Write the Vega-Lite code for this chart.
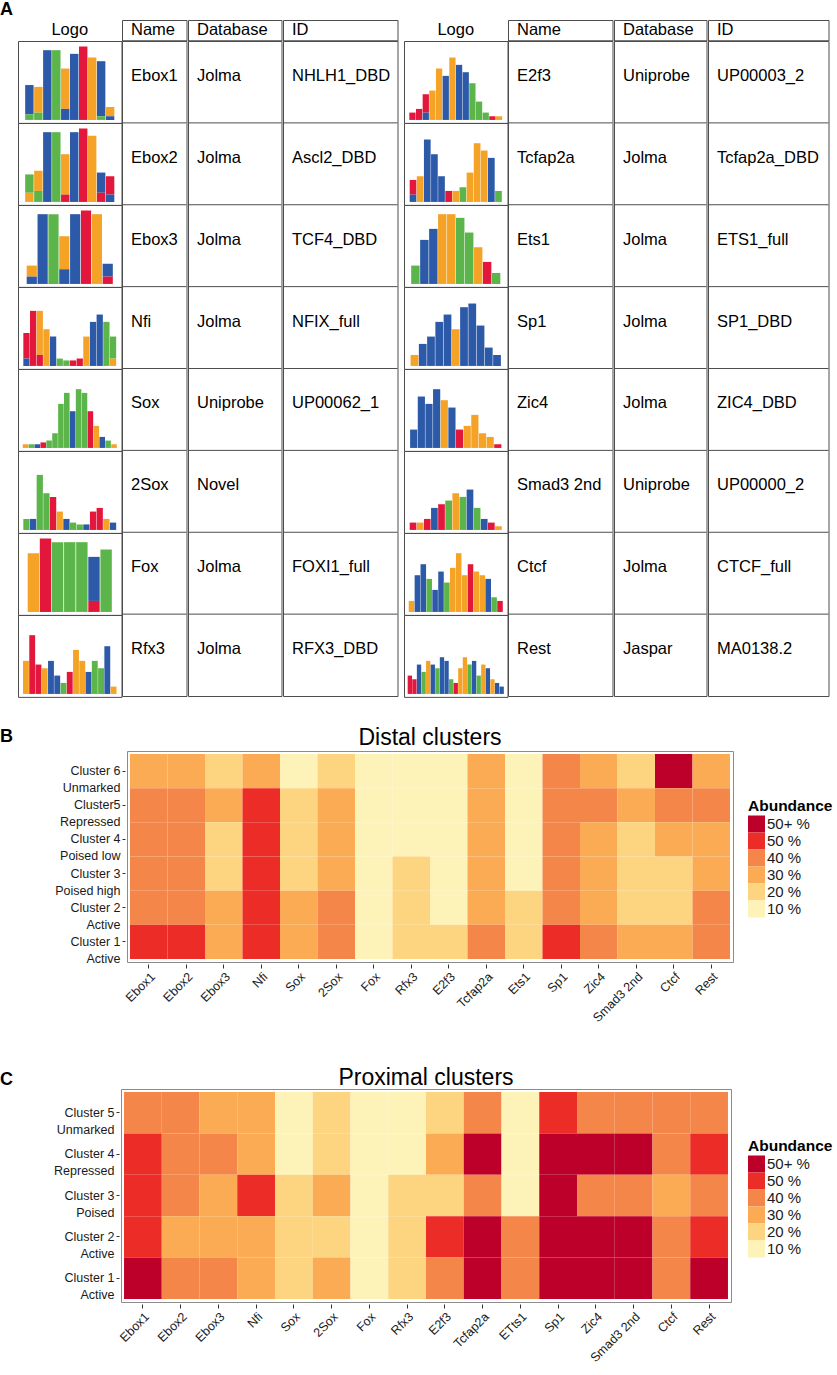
{
"$schema": "https://vega.github.io/schema/vega-lite/v6.json",
"background": "white",
"padding": 0,
"config": {"view": {"stroke": "#4d4d4d", "strokeWidth": 1}, "font": "Liberation Sans", "text": {"font": "Liberation Sans", "fontSize": 16.5, "color": "black"}},
"datasets": {
"motifs": [
{"side":"L","row":1,"name":"Ebox1","db":"Jolma","id":"NHLH1_DBD"},
{"side":"L","row":2,"name":"Ebox2","db":"Jolma","id":"Ascl2_DBD"},
{"side":"L","row":3,"name":"Ebox3","db":"Jolma","id":"TCF4_DBD"},
{"side":"L","row":4,"name":"Nfi","db":"Jolma","id":"NFIX_full"},
{"side":"L","row":5,"name":"Sox","db":"Uniprobe","id":"UP00062_1"},
{"side":"L","row":6,"name":"2Sox","db":"Novel","id":""},
{"side":"L","row":7,"name":"Fox","db":"Jolma","id":"FOXI1_full"},
{"side":"L","row":8,"name":"Rfx3","db":"Jolma","id":"RFX3_DBD"},
{"side":"R","row":1,"name":"E2f3","db":"Uniprobe","id":"UP00003_2"},
{"side":"R","row":2,"name":"Tcfap2a","db":"Jolma","id":"Tcfap2a_DBD"},
{"side":"R","row":3,"name":"Ets1","db":"Jolma","id":"ETS1_full"},
{"side":"R","row":4,"name":"Sp1","db":"Jolma","id":"SP1_DBD"},
{"side":"R","row":5,"name":"Zic4","db":"Jolma","id":"ZIC4_DBD"},
{"side":"R","row":6,"name":"Smad3 2nd","db":"Uniprobe","id":"UP00000_2"},
{"side":"R","row":7,"name":"Ctcf","db":"Jolma","id":"CTCF_full"},
{"side":"R","row":8,"name":"Rest","db":"Jaspar","id":"MA0138.2"}
],
"letters": [{"panel":"B"},{"panel":"C"}],
"logos": [
{"m":"Ebox1","p":1,"b":"C","h":0.8},{"m":"Ebox1","p":1,"b":"A","h":0.15},{"m":"Ebox1","p":2,"b":"G","h":0.7},{"m":"Ebox1","p":2,"b":"A","h":0.2},{"m":"Ebox1","p":3,"b":"C","h":1.9},{"m":"Ebox1","p":4,"b":"A","h":1.9},{"m":"Ebox1","p":5,"b":"G","h":1.1},{"m":"Ebox1","p":5,"b":"C","h":0.3},{"m":"Ebox1","p":6,"b":"C","h":1.8},{"m":"Ebox1","p":7,"b":"T","h":2.0},{"m":"Ebox1","p":8,"b":"G","h":1.7},{"m":"Ebox1","p":9,"b":"C","h":1.5},{"m":"Ebox1","p":9,"b":"A","h":0.1},{"m":"Ebox1","p":10,"b":"G","h":0.25},{"m":"Ebox1","p":10,"b":"C","h":0.1},
{"m":"Ebox2","p":1,"b":"A","h":0.5},{"m":"Ebox2","p":1,"b":"G","h":0.25},{"m":"Ebox2","p":2,"b":"G","h":0.55},{"m":"Ebox2","p":2,"b":"A","h":0.3},{"m":"Ebox2","p":3,"b":"C","h":1.9},{"m":"Ebox2","p":4,"b":"A","h":1.9},{"m":"Ebox2","p":5,"b":"G","h":1.1},{"m":"Ebox2","p":5,"b":"T","h":0.2},{"m":"Ebox2","p":6,"b":"C","h":1.9},{"m":"Ebox2","p":7,"b":"T","h":2.0},{"m":"Ebox2","p":8,"b":"G","h":1.8},{"m":"Ebox2","p":9,"b":"C","h":0.55},{"m":"Ebox2","p":9,"b":"T","h":0.25},{"m":"Ebox2","p":10,"b":"T","h":0.5},{"m":"Ebox2","p":10,"b":"C","h":0.2},
{"m":"Ebox3","p":1,"b":"G","h":0.3},{"m":"Ebox3","p":1,"b":"C","h":0.2},{"m":"Ebox3","p":2,"b":"C","h":1.9},{"m":"Ebox3","p":3,"b":"A","h":1.9},{"m":"Ebox3","p":4,"b":"G","h":0.9},{"m":"Ebox3","p":4,"b":"C","h":0.4},{"m":"Ebox3","p":5,"b":"C","h":1.9},{"m":"Ebox3","p":6,"b":"T","h":2.0},{"m":"Ebox3","p":7,"b":"G","h":1.9},{"m":"Ebox3","p":8,"b":"C","h":0.35},{"m":"Ebox3","p":8,"b":"T","h":0.2},
{"m":"Nfi","p":1,"b":"T","h":0.7},{"m":"Nfi","p":1,"b":"C","h":0.2},{"m":"Nfi","p":2,"b":"T","h":1.5},{"m":"Nfi","p":3,"b":"G","h":1.2},{"m":"Nfi","p":3,"b":"T","h":0.3},{"m":"Nfi","p":4,"b":"G","h":1.0},{"m":"Nfi","p":5,"b":"C","h":0.8},{"m":"Nfi","p":6,"b":"A","h":0.2},{"m":"Nfi","p":7,"b":"A","h":0.15},{"m":"Nfi","p":8,"b":"T","h":0.15},{"m":"Nfi","p":9,"b":"T","h":0.2},{"m":"Nfi","p":10,"b":"G","h":0.8},{"m":"Nfi","p":11,"b":"C","h":1.2},{"m":"Nfi","p":12,"b":"C","h":1.4},{"m":"Nfi","p":13,"b":"A","h":1.2},{"m":"Nfi","p":14,"b":"A","h":0.6},{"m":"Nfi","p":14,"b":"G","h":0.2},
{"m":"Sox","p":1,"b":"G","h":0.1},{"m":"Sox","p":2,"b":"A","h":0.1},{"m":"Sox","p":3,"b":"C","h":0.1},{"m":"Sox","p":4,"b":"T","h":0.15},{"m":"Sox","p":5,"b":"A","h":0.2},{"m":"Sox","p":6,"b":"A","h":0.4},{"m":"Sox","p":7,"b":"A","h":1.2},{"m":"Sox","p":8,"b":"A","h":1.5},{"m":"Sox","p":9,"b":"C","h":1.0},{"m":"Sox","p":10,"b":"A","h":1.6},{"m":"Sox","p":11,"b":"A","h":1.5},{"m":"Sox","p":12,"b":"T","h":1.0},{"m":"Sox","p":13,"b":"G","h":0.6},{"m":"Sox","p":14,"b":"C","h":0.3},{"m":"Sox","p":15,"b":"A","h":0.2},{"m":"Sox","p":16,"b":"G","h":0.1},
{"m":"2Sox","p":1,"b":"A","h":0.3},{"m":"2Sox","p":2,"b":"C","h":0.3},{"m":"2Sox","p":3,"b":"A","h":1.5},{"m":"2Sox","p":4,"b":"A","h":1.0},{"m":"2Sox","p":5,"b":"T","h":0.9},{"m":"2Sox","p":6,"b":"G","h":0.5},{"m":"2Sox","p":7,"b":"C","h":0.3},{"m":"2Sox","p":8,"b":"A","h":0.2},{"m":"2Sox","p":9,"b":"A","h":0.15},{"m":"2Sox","p":10,"b":"C","h":0.15},{"m":"2Sox","p":11,"b":"T","h":0.5},{"m":"2Sox","p":12,"b":"T","h":0.6},{"m":"2Sox","p":13,"b":"G","h":0.3},{"m":"2Sox","p":14,"b":"C","h":0.2},
{"m":"Fox","p":1,"b":"G","h":1.6},{"m":"Fox","p":2,"b":"T","h":2.0},{"m":"Fox","p":3,"b":"A","h":1.9},{"m":"Fox","p":4,"b":"A","h":1.9},{"m":"Fox","p":5,"b":"A","h":1.9},{"m":"Fox","p":6,"b":"C","h":1.2},{"m":"Fox","p":6,"b":"T","h":0.3},{"m":"Fox","p":7,"b":"A","h":1.7},
{"m":"Rfx3","p":1,"b":"G","h":0.9},{"m":"Rfx3","p":2,"b":"T","h":1.6},{"m":"Rfx3","p":3,"b":"T","h":0.8},{"m":"Rfx3","p":4,"b":"G","h":0.7},{"m":"Rfx3","p":5,"b":"C","h":0.9},{"m":"Rfx3","p":6,"b":"C","h":0.5},{"m":"Rfx3","p":7,"b":"A","h":0.3},{"m":"Rfx3","p":8,"b":"T","h":0.6},{"m":"Rfx3","p":9,"b":"G","h":1.2},{"m":"Rfx3","p":10,"b":"G","h":0.9},{"m":"Rfx3","p":11,"b":"C","h":0.6},{"m":"Rfx3","p":12,"b":"A","h":0.9},{"m":"Rfx3","p":13,"b":"A","h":0.7},{"m":"Rfx3","p":14,"b":"C","h":1.3},{"m":"Rfx3","p":15,"b":"G","h":0.2},
{"m":"E2f3","p":1,"b":"T","h":0.2},{"m":"E2f3","p":2,"b":"T","h":0.3},{"m":"E2f3","p":3,"b":"T","h":0.5},{"m":"E2f3","p":3,"b":"C","h":0.2},{"m":"E2f3","p":4,"b":"G","h":0.8},{"m":"E2f3","p":5,"b":"G","h":1.4},{"m":"E2f3","p":6,"b":"C","h":1.2},{"m":"E2f3","p":7,"b":"G","h":1.7},{"m":"E2f3","p":8,"b":"C","h":1.5},{"m":"E2f3","p":9,"b":"C","h":1.3},{"m":"E2f3","p":10,"b":"A","h":1.0},{"m":"E2f3","p":11,"b":"A","h":0.5},{"m":"E2f3","p":12,"b":"A","h":0.2},{"m":"E2f3","p":13,"b":"T","h":0.1},{"m":"E2f3","p":14,"b":"G","h":0.1},
{"m":"Tcfap2a","p":1,"b":"T","h":0.4},{"m":"Tcfap2a","p":1,"b":"C","h":0.2},{"m":"Tcfap2a","p":2,"b":"G","h":0.7},{"m":"Tcfap2a","p":3,"b":"C","h":1.7},{"m":"Tcfap2a","p":4,"b":"C","h":1.3},{"m":"Tcfap2a","p":5,"b":"C","h":0.7},{"m":"Tcfap2a","p":6,"b":"T","h":0.3},{"m":"Tcfap2a","p":7,"b":"G","h":0.3},{"m":"Tcfap2a","p":8,"b":"A","h":0.4},{"m":"Tcfap2a","p":9,"b":"G","h":0.8},{"m":"Tcfap2a","p":10,"b":"G","h":1.6},{"m":"Tcfap2a","p":11,"b":"G","h":1.4},{"m":"Tcfap2a","p":12,"b":"C","h":1.2},{"m":"Tcfap2a","p":13,"b":"A","h":0.3},
{"m":"Ets1","p":1,"b":"A","h":0.5},{"m":"Ets1","p":2,"b":"C","h":1.2},{"m":"Ets1","p":3,"b":"C","h":1.5},{"m":"Ets1","p":4,"b":"G","h":1.9},{"m":"Ets1","p":5,"b":"G","h":1.9},{"m":"Ets1","p":6,"b":"A","h":1.8},{"m":"Ets1","p":7,"b":"A","h":1.4},{"m":"Ets1","p":8,"b":"G","h":1.0},{"m":"Ets1","p":9,"b":"T","h":0.6},{"m":"Ets1","p":10,"b":"A","h":0.3},
{"m":"Sp1","p":1,"b":"G","h":0.3},{"m":"Sp1","p":2,"b":"C","h":0.6},{"m":"Sp1","p":3,"b":"C","h":0.8},{"m":"Sp1","p":4,"b":"C","h":1.2},{"m":"Sp1","p":5,"b":"C","h":1.4},{"m":"Sp1","p":6,"b":"G","h":1.0},{"m":"Sp1","p":7,"b":"C","h":1.6},{"m":"Sp1","p":8,"b":"C","h":1.7},{"m":"Sp1","p":9,"b":"C","h":1.1},{"m":"Sp1","p":10,"b":"C","h":0.5},{"m":"Sp1","p":11,"b":"C","h":0.3},
{"m":"Zic4","p":1,"b":"C","h":0.5},{"m":"Zic4","p":2,"b":"C","h":1.4},{"m":"Zic4","p":3,"b":"C","h":1.2},{"m":"Zic4","p":4,"b":"C","h":1.6},{"m":"Zic4","p":5,"b":"G","h":1.3},{"m":"Zic4","p":6,"b":"C","h":1.1},{"m":"Zic4","p":7,"b":"T","h":0.5},{"m":"Zic4","p":8,"b":"G","h":0.6},{"m":"Zic4","p":9,"b":"G","h":0.9},{"m":"Zic4","p":10,"b":"G","h":0.4},{"m":"Zic4","p":11,"b":"G","h":0.3},{"m":"Zic4","p":12,"b":"T","h":0.1},
{"m":"Smad3 2nd","p":1,"b":"T","h":0.2},{"m":"Smad3 2nd","p":2,"b":"G","h":0.2},{"m":"Smad3 2nd","p":3,"b":"T","h":0.3},{"m":"Smad3 2nd","p":4,"b":"C","h":0.6},{"m":"Smad3 2nd","p":5,"b":"T","h":0.7},{"m":"Smad3 2nd","p":6,"b":"A","h":0.8},{"m":"Smad3 2nd","p":7,"b":"G","h":1.0},{"m":"Smad3 2nd","p":8,"b":"A","h":0.9},{"m":"Smad3 2nd","p":9,"b":"C","h":1.1},{"m":"Smad3 2nd","p":10,"b":"A","h":0.6},{"m":"Smad3 2nd","p":11,"b":"C","h":0.3},{"m":"Smad3 2nd","p":12,"b":"T","h":0.2},{"m":"Smad3 2nd","p":13,"b":"G","h":0.1},
{"m":"Ctcf","p":1,"b":"G","h":0.3},{"m":"Ctcf","p":2,"b":"C","h":1.0},{"m":"Ctcf","p":3,"b":"C","h":1.3},{"m":"Ctcf","p":4,"b":"A","h":0.9},{"m":"Ctcf","p":5,"b":"C","h":0.6},{"m":"Ctcf","p":6,"b":"C","h":1.1},{"m":"Ctcf","p":7,"b":"A","h":0.8},{"m":"Ctcf","p":8,"b":"G","h":1.2},{"m":"Ctcf","p":9,"b":"G","h":1.6},{"m":"Ctcf","p":10,"b":"G","h":1.0},{"m":"Ctcf","p":11,"b":"T","h":1.3},{"m":"Ctcf","p":12,"b":"G","h":1.1},{"m":"Ctcf","p":13,"b":"G","h":1.0},{"m":"Ctcf","p":14,"b":"C","h":0.9},{"m":"Ctcf","p":15,"b":"A","h":0.4},{"m":"Ctcf","p":16,"b":"T","h":0.3},
{"m":"Rest","p":1,"b":"T","h":0.5},{"m":"Rest","p":2,"b":"T","h":0.4},{"m":"Rest","p":3,"b":"C","h":0.8},{"m":"Rest","p":4,"b":"A","h":0.6},{"m":"Rest","p":5,"b":"G","h":0.9},{"m":"Rest","p":6,"b":"C","h":0.8},{"m":"Rest","p":7,"b":"A","h":0.7},{"m":"Rest","p":8,"b":"C","h":1.0},{"m":"Rest","p":9,"b":"C","h":0.9},{"m":"Rest","p":10,"b":"A","h":0.4},{"m":"Rest","p":11,"b":"T","h":0.3},{"m":"Rest","p":12,"b":"G","h":0.7},{"m":"Rest","p":13,"b":"G","h":1.0},{"m":"Rest","p":14,"b":"A","h":0.8},{"m":"Rest","p":15,"b":"C","h":0.9},{"m":"Rest","p":16,"b":"A","h":0.5},{"m":"Rest","p":17,"b":"G","h":0.8},{"m":"Rest","p":18,"b":"C","h":0.7},{"m":"Rest","p":19,"b":"G","h":0.4},{"m":"Rest","p":20,"b":"C","h":0.3},{"m":"Rest","p":21,"b":"C","h":0.2}
],
"distal": [
{"motif":"Ebox1","cluster":"Cluster 6|Unmarked","level":"30 %"},{"motif":"Ebox2","cluster":"Cluster 6|Unmarked","level":"30 %"},{"motif":"Ebox3","cluster":"Cluster 6|Unmarked","level":"20 %"},{"motif":"Nfi","cluster":"Cluster 6|Unmarked","level":"30 %"},{"motif":"Sox","cluster":"Cluster 6|Unmarked","level":"10 %"},{"motif":"2Sox","cluster":"Cluster 6|Unmarked","level":"20 %"},{"motif":"Fox","cluster":"Cluster 6|Unmarked","level":"10 %"},{"motif":"Rfx3","cluster":"Cluster 6|Unmarked","level":"10 %"},{"motif":"E2f3","cluster":"Cluster 6|Unmarked","level":"10 %"},{"motif":"Tcfap2a","cluster":"Cluster 6|Unmarked","level":"30 %"},{"motif":"Ets1","cluster":"Cluster 6|Unmarked","level":"10 %"},{"motif":"Sp1","cluster":"Cluster 6|Unmarked","level":"40 %"},{"motif":"Zic4","cluster":"Cluster 6|Unmarked","level":"30 %"},{"motif":"Smad3 2nd","cluster":"Cluster 6|Unmarked","level":"20 %"},{"motif":"Ctcf","cluster":"Cluster 6|Unmarked","level":"50+ %"},{"motif":"Rest","cluster":"Cluster 6|Unmarked","level":"30 %"},
{"motif":"Ebox1","cluster":"Cluster5|Repressed","level":"40 %"},{"motif":"Ebox2","cluster":"Cluster5|Repressed","level":"40 %"},{"motif":"Ebox3","cluster":"Cluster5|Repressed","level":"30 %"},{"motif":"Nfi","cluster":"Cluster5|Repressed","level":"50 %"},{"motif":"Sox","cluster":"Cluster5|Repressed","level":"20 %"},{"motif":"2Sox","cluster":"Cluster5|Repressed","level":"30 %"},{"motif":"Fox","cluster":"Cluster5|Repressed","level":"10 %"},{"motif":"Rfx3","cluster":"Cluster5|Repressed","level":"10 %"},{"motif":"E2f3","cluster":"Cluster5|Repressed","level":"10 %"},{"motif":"Tcfap2a","cluster":"Cluster5|Repressed","level":"30 %"},{"motif":"Ets1","cluster":"Cluster5|Repressed","level":"10 %"},{"motif":"Sp1","cluster":"Cluster5|Repressed","level":"40 %"},{"motif":"Zic4","cluster":"Cluster5|Repressed","level":"40 %"},{"motif":"Smad3 2nd","cluster":"Cluster5|Repressed","level":"30 %"},{"motif":"Ctcf","cluster":"Cluster5|Repressed","level":"40 %"},{"motif":"Rest","cluster":"Cluster5|Repressed","level":"40 %"},
{"motif":"Ebox1","cluster":"Cluster 4|Poised low","level":"40 %"},{"motif":"Ebox2","cluster":"Cluster 4|Poised low","level":"40 %"},{"motif":"Ebox3","cluster":"Cluster 4|Poised low","level":"20 %"},{"motif":"Nfi","cluster":"Cluster 4|Poised low","level":"50 %"},{"motif":"Sox","cluster":"Cluster 4|Poised low","level":"20 %"},{"motif":"2Sox","cluster":"Cluster 4|Poised low","level":"30 %"},{"motif":"Fox","cluster":"Cluster 4|Poised low","level":"10 %"},{"motif":"Rfx3","cluster":"Cluster 4|Poised low","level":"10 %"},{"motif":"E2f3","cluster":"Cluster 4|Poised low","level":"10 %"},{"motif":"Tcfap2a","cluster":"Cluster 4|Poised low","level":"30 %"},{"motif":"Ets1","cluster":"Cluster 4|Poised low","level":"10 %"},{"motif":"Sp1","cluster":"Cluster 4|Poised low","level":"40 %"},{"motif":"Zic4","cluster":"Cluster 4|Poised low","level":"30 %"},{"motif":"Smad3 2nd","cluster":"Cluster 4|Poised low","level":"20 %"},{"motif":"Ctcf","cluster":"Cluster 4|Poised low","level":"30 %"},{"motif":"Rest","cluster":"Cluster 4|Poised low","level":"30 %"},
{"motif":"Ebox1","cluster":"Cluster 3|Poised high","level":"40 %"},{"motif":"Ebox2","cluster":"Cluster 3|Poised high","level":"40 %"},{"motif":"Ebox3","cluster":"Cluster 3|Poised high","level":"20 %"},{"motif":"Nfi","cluster":"Cluster 3|Poised high","level":"50 %"},{"motif":"Sox","cluster":"Cluster 3|Poised high","level":"20 %"},{"motif":"2Sox","cluster":"Cluster 3|Poised high","level":"30 %"},{"motif":"Fox","cluster":"Cluster 3|Poised high","level":"10 %"},{"motif":"Rfx3","cluster":"Cluster 3|Poised high","level":"20 %"},{"motif":"E2f3","cluster":"Cluster 3|Poised high","level":"10 %"},{"motif":"Tcfap2a","cluster":"Cluster 3|Poised high","level":"30 %"},{"motif":"Ets1","cluster":"Cluster 3|Poised high","level":"10 %"},{"motif":"Sp1","cluster":"Cluster 3|Poised high","level":"40 %"},{"motif":"Zic4","cluster":"Cluster 3|Poised high","level":"30 %"},{"motif":"Smad3 2nd","cluster":"Cluster 3|Poised high","level":"20 %"},{"motif":"Ctcf","cluster":"Cluster 3|Poised high","level":"20 %"},{"motif":"Rest","cluster":"Cluster 3|Poised high","level":"30 %"},
{"motif":"Ebox1","cluster":"Cluster 2|Active","level":"40 %"},{"motif":"Ebox2","cluster":"Cluster 2|Active","level":"40 %"},{"motif":"Ebox3","cluster":"Cluster 2|Active","level":"30 %"},{"motif":"Nfi","cluster":"Cluster 2|Active","level":"50 %"},{"motif":"Sox","cluster":"Cluster 2|Active","level":"30 %"},{"motif":"2Sox","cluster":"Cluster 2|Active","level":"40 %"},{"motif":"Fox","cluster":"Cluster 2|Active","level":"10 %"},{"motif":"Rfx3","cluster":"Cluster 2|Active","level":"20 %"},{"motif":"E2f3","cluster":"Cluster 2|Active","level":"10 %"},{"motif":"Tcfap2a","cluster":"Cluster 2|Active","level":"30 %"},{"motif":"Ets1","cluster":"Cluster 2|Active","level":"20 %"},{"motif":"Sp1","cluster":"Cluster 2|Active","level":"40 %"},{"motif":"Zic4","cluster":"Cluster 2|Active","level":"30 %"},{"motif":"Smad3 2nd","cluster":"Cluster 2|Active","level":"20 %"},{"motif":"Ctcf","cluster":"Cluster 2|Active","level":"20 %"},{"motif":"Rest","cluster":"Cluster 2|Active","level":"40 %"},
{"motif":"Ebox1","cluster":"Cluster 1|Active","level":"50 %"},{"motif":"Ebox2","cluster":"Cluster 1|Active","level":"50 %"},{"motif":"Ebox3","cluster":"Cluster 1|Active","level":"30 %"},{"motif":"Nfi","cluster":"Cluster 1|Active","level":"50 %"},{"motif":"Sox","cluster":"Cluster 1|Active","level":"30 %"},{"motif":"2Sox","cluster":"Cluster 1|Active","level":"40 %"},{"motif":"Fox","cluster":"Cluster 1|Active","level":"10 %"},{"motif":"Rfx3","cluster":"Cluster 1|Active","level":"20 %"},{"motif":"E2f3","cluster":"Cluster 1|Active","level":"20 %"},{"motif":"Tcfap2a","cluster":"Cluster 1|Active","level":"40 %"},{"motif":"Ets1","cluster":"Cluster 1|Active","level":"20 %"},{"motif":"Sp1","cluster":"Cluster 1|Active","level":"50 %"},{"motif":"Zic4","cluster":"Cluster 1|Active","level":"40 %"},{"motif":"Smad3 2nd","cluster":"Cluster 1|Active","level":"30 %"},{"motif":"Ctcf","cluster":"Cluster 1|Active","level":"30 %"},{"motif":"Rest","cluster":"Cluster 1|Active","level":"40 %"}
],
"proximal": [
{"motif":"Ebox1","cluster":"Cluster 5|Unmarked","level":"40 %"},{"motif":"Ebox2","cluster":"Cluster 5|Unmarked","level":"40 %"},{"motif":"Ebox3","cluster":"Cluster 5|Unmarked","level":"30 %"},{"motif":"Nfi","cluster":"Cluster 5|Unmarked","level":"30 %"},{"motif":"Sox","cluster":"Cluster 5|Unmarked","level":"10 %"},{"motif":"2Sox","cluster":"Cluster 5|Unmarked","level":"20 %"},{"motif":"Fox","cluster":"Cluster 5|Unmarked","level":"10 %"},{"motif":"Rfx3","cluster":"Cluster 5|Unmarked","level":"10 %"},{"motif":"E2f3","cluster":"Cluster 5|Unmarked","level":"20 %"},{"motif":"Tcfap2a","cluster":"Cluster 5|Unmarked","level":"40 %"},{"motif":"ETts1","cluster":"Cluster 5|Unmarked","level":"10 %"},{"motif":"Sp1","cluster":"Cluster 5|Unmarked","level":"50 %"},{"motif":"Zic4","cluster":"Cluster 5|Unmarked","level":"40 %"},{"motif":"Smad3 2nd","cluster":"Cluster 5|Unmarked","level":"40 %"},{"motif":"Ctcf","cluster":"Cluster 5|Unmarked","level":"40 %"},{"motif":"Rest","cluster":"Cluster 5|Unmarked","level":"40 %"},
{"motif":"Ebox1","cluster":"Cluster 4|Repressed","level":"50 %"},{"motif":"Ebox2","cluster":"Cluster 4|Repressed","level":"40 %"},{"motif":"Ebox3","cluster":"Cluster 4|Repressed","level":"40 %"},{"motif":"Nfi","cluster":"Cluster 4|Repressed","level":"30 %"},{"motif":"Sox","cluster":"Cluster 4|Repressed","level":"10 %"},{"motif":"2Sox","cluster":"Cluster 4|Repressed","level":"20 %"},{"motif":"Fox","cluster":"Cluster 4|Repressed","level":"10 %"},{"motif":"Rfx3","cluster":"Cluster 4|Repressed","level":"10 %"},{"motif":"E2f3","cluster":"Cluster 4|Repressed","level":"30 %"},{"motif":"Tcfap2a","cluster":"Cluster 4|Repressed","level":"50+ %"},{"motif":"ETts1","cluster":"Cluster 4|Repressed","level":"10 %"},{"motif":"Sp1","cluster":"Cluster 4|Repressed","level":"50+ %"},{"motif":"Zic4","cluster":"Cluster 4|Repressed","level":"50+ %"},{"motif":"Smad3 2nd","cluster":"Cluster 4|Repressed","level":"50+ %"},{"motif":"Ctcf","cluster":"Cluster 4|Repressed","level":"40 %"},{"motif":"Rest","cluster":"Cluster 4|Repressed","level":"50 %"},
{"motif":"Ebox1","cluster":"Cluster 3|Poised","level":"50 %"},{"motif":"Ebox2","cluster":"Cluster 3|Poised","level":"40 %"},{"motif":"Ebox3","cluster":"Cluster 3|Poised","level":"30 %"},{"motif":"Nfi","cluster":"Cluster 3|Poised","level":"50 %"},{"motif":"Sox","cluster":"Cluster 3|Poised","level":"20 %"},{"motif":"2Sox","cluster":"Cluster 3|Poised","level":"30 %"},{"motif":"Fox","cluster":"Cluster 3|Poised","level":"10 %"},{"motif":"Rfx3","cluster":"Cluster 3|Poised","level":"20 %"},{"motif":"E2f3","cluster":"Cluster 3|Poised","level":"20 %"},{"motif":"Tcfap2a","cluster":"Cluster 3|Poised","level":"40 %"},{"motif":"ETts1","cluster":"Cluster 3|Poised","level":"10 %"},{"motif":"Sp1","cluster":"Cluster 3|Poised","level":"50+ %"},{"motif":"Zic4","cluster":"Cluster 3|Poised","level":"40 %"},{"motif":"Smad3 2nd","cluster":"Cluster 3|Poised","level":"40 %"},{"motif":"Ctcf","cluster":"Cluster 3|Poised","level":"30 %"},{"motif":"Rest","cluster":"Cluster 3|Poised","level":"40 %"},
{"motif":"Ebox1","cluster":"Cluster 2|Active","level":"50 %"},{"motif":"Ebox2","cluster":"Cluster 2|Active","level":"30 %"},{"motif":"Ebox3","cluster":"Cluster 2|Active","level":"30 %"},{"motif":"Nfi","cluster":"Cluster 2|Active","level":"30 %"},{"motif":"Sox","cluster":"Cluster 2|Active","level":"20 %"},{"motif":"2Sox","cluster":"Cluster 2|Active","level":"20 %"},{"motif":"Fox","cluster":"Cluster 2|Active","level":"10 %"},{"motif":"Rfx3","cluster":"Cluster 2|Active","level":"20 %"},{"motif":"E2f3","cluster":"Cluster 2|Active","level":"50 %"},{"motif":"Tcfap2a","cluster":"Cluster 2|Active","level":"50+ %"},{"motif":"ETts1","cluster":"Cluster 2|Active","level":"40 %"},{"motif":"Sp1","cluster":"Cluster 2|Active","level":"50+ %"},{"motif":"Zic4","cluster":"Cluster 2|Active","level":"50+ %"},{"motif":"Smad3 2nd","cluster":"Cluster 2|Active","level":"50+ %"},{"motif":"Ctcf","cluster":"Cluster 2|Active","level":"40 %"},{"motif":"Rest","cluster":"Cluster 2|Active","level":"50 %"},
{"motif":"Ebox1","cluster":"Cluster 1|Active","level":"50+ %"},{"motif":"Ebox2","cluster":"Cluster 1|Active","level":"40 %"},{"motif":"Ebox3","cluster":"Cluster 1|Active","level":"40 %"},{"motif":"Nfi","cluster":"Cluster 1|Active","level":"30 %"},{"motif":"Sox","cluster":"Cluster 1|Active","level":"20 %"},{"motif":"2Sox","cluster":"Cluster 1|Active","level":"30 %"},{"motif":"Fox","cluster":"Cluster 1|Active","level":"10 %"},{"motif":"Rfx3","cluster":"Cluster 1|Active","level":"20 %"},{"motif":"E2f3","cluster":"Cluster 1|Active","level":"40 %"},{"motif":"Tcfap2a","cluster":"Cluster 1|Active","level":"50+ %"},{"motif":"ETts1","cluster":"Cluster 1|Active","level":"40 %"},{"motif":"Sp1","cluster":"Cluster 1|Active","level":"50+ %"},{"motif":"Zic4","cluster":"Cluster 1|Active","level":"50+ %"},{"motif":"Smad3 2nd","cluster":"Cluster 1|Active","level":"50+ %"},{"motif":"Ctcf","cluster":"Cluster 1|Active","level":"40 %"},{"motif":"Rest","cluster":"Cluster 1|Active","level":"50+ %"}
]
},
"resolve": {"scale": {"color": "independent"}, "legend": {"color": "independent"}},
"spacing": 28,
"vconcat": [
{
"title": {"text": "A", "anchor": "start", "frame": "group", "fontSize": 18, "fontWeight": "bold", "font": "Liberation Sans", "dx": -18, "offset": 1, "color": "black"},
"spacing": 4,
"hconcat": [
{"spacing": -1, "hconcat": [
 {"spacing": -1, "vconcat": [
  {"width": 103.5, "height": 20.5, "data": {"values": [{"t": "Logo"}]}, "mark": {"type": "text", "align": "center", "baseline": "middle", "fontSize": 16.5}, "encoding": {"text": {"field": "t"}}},
  {"data": {"name": "logos"}, "transform": [{"filter": {"field": "m", "oneOf": ["Ebox1","Ebox2","Ebox3","Nfi","Sox","2Sox","Fox","Rfx3"]}}],
   "bounds": "flush", "spacing": {"row": 0}, "resolve": {"scale": {"x": "independent"}},
   "facet": {"row": {"field": "m", "type": "nominal", "sort": ["Ebox1","Ebox2","Ebox3","Nfi","Sox","2Sox","Fox","Rfx3"], "header": {"labels": false, "title": null}}},
   "spec": {"width": 103.5, "height": 81.875, "mark": {"type": "bar"},
    "encoding": {"x": {"field": "p", "type": "ordinal", "scale": {"paddingInner": 0.06, "paddingOuter": 0.8}, "axis": null},
     "y": {"field": "h", "type": "quantitative", "stack": "zero", "scale": {"domain": [-0.08, 2.15], "nice": false, "zero": false}, "axis": null},
     "color": {"field": "b", "type": "nominal", "scale": {"domain": ["A","C","G","T"], "range": ["#5cb54a","#2c5aa8","#f5a326","#e3173b"]}, "legend": null},
     "order": {"field": "h", "type": "quantitative", "sort": "ascending"}}}}
 ]},
 {"spacing": -1, "vconcat": [
  {"width": 64.5, "height": 20.5, "data": {"values": [{"t": "Name"}]}, "mark": {"type": "text", "align": "left", "baseline": "middle", "dx": 9, "fontSize": 16.5}, "encoding": {"x": {"datum": 0, "type": "quantitative", "scale": {"domain": [0, 1]}, "axis": null}, "text": {"field": "t"}}},
  {"width": 64.5, "height": 655, "data": {"name": "motifs"}, "transform": [{"filter": {"field": "side", "equal": "L"}}], "layer": [
   {"mark": {"type": "rule", "color": "#4d4d4d", "strokeWidth": 1}, "encoding": {"y": {"field": "row", "type": "ordinal", "bandPosition": 0, "scale": {"type": "band", "domain": [1,2,3,4,5,6,7,8], "paddingInner": 0, "paddingOuter": 0}, "axis": null}}},
   {"mark": {"type": "text", "align": "left", "baseline": "middle", "dx": 9, "dy": -6, "fontSize": 16.5}, "encoding": {"y": {"field": "row", "type": "ordinal", "scale": {"type": "band", "domain": [1,2,3,4,5,6,7,8], "paddingInner": 0, "paddingOuter": 0}, "axis": null}, "x": {"datum": 0, "type": "quantitative", "scale": {"domain": [0, 1]}, "axis": null}, "text": {"field": "name"}}}
  ]}
 ]},
 {"spacing": -1, "vconcat": [
  {"width": 93.5, "height": 20.5, "data": {"values": [{"t": "Database"}]}, "mark": {"type": "text", "align": "left", "baseline": "middle", "dx": 9, "fontSize": 16.5}, "encoding": {"x": {"datum": 0, "type": "quantitative", "scale": {"domain": [0, 1]}, "axis": null}, "text": {"field": "t"}}},
  {"width": 93.5, "height": 655, "data": {"name": "motifs"}, "transform": [{"filter": {"field": "side", "equal": "L"}}], "layer": [
   {"mark": {"type": "rule", "color": "#4d4d4d", "strokeWidth": 1}, "encoding": {"y": {"field": "row", "type": "ordinal", "bandPosition": 0, "scale": {"type": "band", "domain": [1,2,3,4,5,6,7,8], "paddingInner": 0, "paddingOuter": 0}, "axis": null}}},
   {"mark": {"type": "text", "align": "left", "baseline": "middle", "dx": 9, "dy": -6, "fontSize": 16.5}, "encoding": {"y": {"field": "row", "type": "ordinal", "scale": {"type": "band", "domain": [1,2,3,4,5,6,7,8], "paddingInner": 0, "paddingOuter": 0}, "axis": null}, "x": {"datum": 0, "type": "quantitative", "scale": {"domain": [0, 1]}, "axis": null}, "text": {"field": "db"}}}
  ]}
 ]},
 {"spacing": -1, "vconcat": [
  {"width": 114.5, "height": 20.5, "data": {"values": [{"t": "ID"}]}, "mark": {"type": "text", "align": "left", "baseline": "middle", "dx": 9, "fontSize": 16.5}, "encoding": {"x": {"datum": 0, "type": "quantitative", "scale": {"domain": [0, 1]}, "axis": null}, "text": {"field": "t"}}},
  {"width": 114.5, "height": 655, "data": {"name": "motifs"}, "transform": [{"filter": {"field": "side", "equal": "L"}}], "layer": [
   {"mark": {"type": "rule", "color": "#4d4d4d", "strokeWidth": 1}, "encoding": {"y": {"field": "row", "type": "ordinal", "bandPosition": 0, "scale": {"type": "band", "domain": [1,2,3,4,5,6,7,8], "paddingInner": 0, "paddingOuter": 0}, "axis": null}}},
   {"mark": {"type": "text", "align": "left", "baseline": "middle", "dx": 9, "dy": -6, "fontSize": 16.5}, "encoding": {"y": {"field": "row", "type": "ordinal", "scale": {"type": "band", "domain": [1,2,3,4,5,6,7,8], "paddingInner": 0, "paddingOuter": 0}, "axis": null}, "x": {"datum": 0, "type": "quantitative", "scale": {"domain": [0, 1]}, "axis": null}, "text": {"field": "id"}}}
  ]}
 ]}
]},
{"spacing": -1, "hconcat": [
 {"spacing": -1, "vconcat": [
  {"width": 103.5, "height": 20.5, "data": {"values": [{"t": "Logo"}]}, "mark": {"type": "text", "align": "center", "baseline": "middle", "fontSize": 16.5}, "encoding": {"text": {"field": "t"}}},
  {"data": {"name": "logos"}, "transform": [{"filter": {"field": "m", "oneOf": ["E2f3","Tcfap2a","Ets1","Sp1","Zic4","Smad3 2nd","Ctcf","Rest"]}}],
   "bounds": "flush", "spacing": {"row": 0}, "resolve": {"scale": {"x": "independent"}},
   "facet": {"row": {"field": "m", "type": "nominal", "sort": ["E2f3","Tcfap2a","Ets1","Sp1","Zic4","Smad3 2nd","Ctcf","Rest"], "header": {"labels": false, "title": null}}},
   "spec": {"width": 103.5, "height": 81.875, "mark": {"type": "bar"},
    "encoding": {"x": {"field": "p", "type": "ordinal", "scale": {"paddingInner": 0.06, "paddingOuter": 0.8}, "axis": null},
     "y": {"field": "h", "type": "quantitative", "stack": "zero", "scale": {"domain": [-0.08, 2.15], "nice": false, "zero": false}, "axis": null},
     "color": {"field": "b", "type": "nominal", "scale": {"domain": ["A","C","G","T"], "range": ["#5cb54a","#2c5aa8","#f5a326","#e3173b"]}, "legend": null},
     "order": {"field": "h", "type": "quantitative", "sort": "ascending"}}}}
 ]},
 {"spacing": -1, "vconcat": [
  {"width": 104.5, "height": 20.5, "data": {"values": [{"t": "Name"}]}, "mark": {"type": "text", "align": "left", "baseline": "middle", "dx": 9, "fontSize": 16.5}, "encoding": {"x": {"datum": 0, "type": "quantitative", "scale": {"domain": [0, 1]}, "axis": null}, "text": {"field": "t"}}},
  {"width": 104.5, "height": 655, "data": {"name": "motifs"}, "transform": [{"filter": {"field": "side", "equal": "R"}}], "layer": [
   {"mark": {"type": "rule", "color": "#4d4d4d", "strokeWidth": 1}, "encoding": {"y": {"field": "row", "type": "ordinal", "bandPosition": 0, "scale": {"type": "band", "domain": [1,2,3,4,5,6,7,8], "paddingInner": 0, "paddingOuter": 0}, "axis": null}}},
   {"mark": {"type": "text", "align": "left", "baseline": "middle", "dx": 9, "dy": -6, "fontSize": 16.5}, "encoding": {"y": {"field": "row", "type": "ordinal", "scale": {"type": "band", "domain": [1,2,3,4,5,6,7,8], "paddingInner": 0, "paddingOuter": 0}, "axis": null}, "x": {"datum": 0, "type": "quantitative", "scale": {"domain": [0, 1]}, "axis": null}, "text": {"field": "name"}}}
  ]}
 ]},
 {"spacing": -1, "vconcat": [
  {"width": 92.5, "height": 20.5, "data": {"values": [{"t": "Database"}]}, "mark": {"type": "text", "align": "left", "baseline": "middle", "dx": 9, "fontSize": 16.5}, "encoding": {"x": {"datum": 0, "type": "quantitative", "scale": {"domain": [0, 1]}, "axis": null}, "text": {"field": "t"}}},
  {"width": 92.5, "height": 655, "data": {"name": "motifs"}, "transform": [{"filter": {"field": "side", "equal": "R"}}], "layer": [
   {"mark": {"type": "rule", "color": "#4d4d4d", "strokeWidth": 1}, "encoding": {"y": {"field": "row", "type": "ordinal", "bandPosition": 0, "scale": {"type": "band", "domain": [1,2,3,4,5,6,7,8], "paddingInner": 0, "paddingOuter": 0}, "axis": null}}},
   {"mark": {"type": "text", "align": "left", "baseline": "middle", "dx": 9, "dy": -6, "fontSize": 16.5}, "encoding": {"y": {"field": "row", "type": "ordinal", "scale": {"type": "band", "domain": [1,2,3,4,5,6,7,8], "paddingInner": 0, "paddingOuter": 0}, "axis": null}, "x": {"datum": 0, "type": "quantitative", "scale": {"domain": [0, 1]}, "axis": null}, "text": {"field": "db"}}}
  ]}
 ]},
 {"spacing": -1, "vconcat": [
  {"width": 120.5, "height": 20.5, "data": {"values": [{"t": "ID"}]}, "mark": {"type": "text", "align": "left", "baseline": "middle", "dx": 9, "fontSize": 16.5}, "encoding": {"x": {"datum": 0, "type": "quantitative", "scale": {"domain": [0, 1]}, "axis": null}, "text": {"field": "t"}}},
  {"width": 120.5, "height": 655, "data": {"name": "motifs"}, "transform": [{"filter": {"field": "side", "equal": "R"}}], "layer": [
   {"mark": {"type": "rule", "color": "#4d4d4d", "strokeWidth": 1}, "encoding": {"y": {"field": "row", "type": "ordinal", "bandPosition": 0, "scale": {"type": "band", "domain": [1,2,3,4,5,6,7,8], "paddingInner": 0, "paddingOuter": 0}, "axis": null}}},
   {"mark": {"type": "text", "align": "left", "baseline": "middle", "dx": 9, "dy": -6, "fontSize": 16.5}, "encoding": {"y": {"field": "row", "type": "ordinal", "scale": {"type": "band", "domain": [1,2,3,4,5,6,7,8], "paddingInner": 0, "paddingOuter": 0}, "axis": null}, "x": {"datum": 0, "type": "quantitative", "scale": {"domain": [0, 1]}, "axis": null}, "text": {"field": "id"}}}
  ]}
 ]}
]}
]
},
{
"spacing": 41,
"resolve": {"scale": {"color": "independent"}, "legend": {"color": "independent"}},
"vconcat": [
{"spacing": 0, "resolve": {"scale": {"color": "independent"}, "legend": {"color": "independent"}}, "hconcat": [
{"width": 35, "height": 1, "view": {"stroke": null}, "data": {"name": "letters"}, "transform": [{"filter": {"field": "panel", "equal": "B"}}],
 "layer": [
  {"mark": {"type": "rule", "color": "white", "strokeWidth": 1}, "encoding": {"x": {"datum": 0, "type": "quantitative", "scale": {"domain": [0, 1]}, "axis": null}, "x2": {"datum": 1}}},
  {"mark": {"type": "text", "align": "left", "baseline": "alphabetic", "dx": -18, "dy": -9.6, "fontSize": 18, "fontWeight": "bold", "font": "Liberation Sans"}, "encoding": {"x": {"datum": 0, "type": "quantitative", "scale": {"domain": [0, 1]}, "axis": null}, "text": {"field": "panel"}}}
 ]},
{
"width": 606, "height": 211,
"view": {"stroke": "#8c8c8c", "strokeWidth": 1},
"title": {"text": "Distal clusters", "fontSize": 23, "font": "Liberation Sans", "fontWeight": "normal", "anchor": "middle", "frame": "group", "offset": 1, "color": "black"},
"data": {"name": "distal"},
"mark": {"type": "rect", "strokeWidth": 0},
"encoding": {
 "x": {"field": "motif", "type": "nominal", "sort": ["Ebox1","Ebox2","Ebox3","Nfi","Sox","2Sox","Fox","Rfx3","E2f3","Tcfap2a","Ets1","Sp1","Zic4","Smad3 2nd","Ctcf","Rest"], "scale": {"paddingInner": 0, "paddingOuter": 0.08},
  "axis": {"title": null, "labelAngle": -45, "labelAlign": "right", "labelBaseline": "top", "labelFont": "Liberation Sans", "labelFontSize": 12.5, "labelColor": "#1a1a1a", "domain": false, "tickSize": 4, "tickColor": "#333333", "offset": 2, "labelPadding": 2, "grid": false}},
 "y": {"field": "cluster", "type": "nominal", "sort": ["Cluster 6|Unmarked","Cluster5|Repressed","Cluster 4|Poised low","Cluster 3|Poised high","Cluster 2|Active","Cluster 1|Active"], "scale": {"paddingInner": 0, "paddingOuter": 0.088},
  "axis": {"title": null, "labelExpr": "split(datum.label, '|')", "labelLineHeight": 17, "labelFont": "Liberation Sans", "labelFontSize": 12.5, "labelColor": "#1a1a1a", "domain": false, "tickSize": 3, "tickColor": "#333333", "offset": 2, "labelPadding": 2, "grid": false}},
 "color": {"field": "level", "type": "nominal", "scale": {"domain": ["50+ %","50 %","40 %","30 %","20 %","10 %"], "range": ["#bd0029","#eb2c27","#f58649","#fbab54","#fdd480","#fdf3b8"]},
  "legend": {"title": "Abundance", "orient": "none", "legendX": 621, "legendY": 48, "titleFontSize": 15.5, "titleFontWeight": "bold", "titleFont": "Liberation Sans", "titleColor": "black", "titlePadding": 1, "labelFontSize": 15, "labelFont": "Liberation Sans", "labelColor": "#1a1a1a", "symbolType": "square", "symbolSize": 289, "symbolStrokeWidth": 0, "symbolOpacity": 1, "rowPadding": 0, "labelOffset": 2, "padding": 0}}
}
}
]},
{"spacing": 0, "resolve": {"scale": {"color": "independent"}, "legend": {"color": "independent"}}, "hconcat": [
{"width": 34, "height": 1, "view": {"stroke": null}, "data": {"name": "letters"}, "transform": [{"filter": {"field": "panel", "equal": "C"}}],
 "layer": [
  {"mark": {"type": "rule", "color": "white", "strokeWidth": 1}, "encoding": {"x": {"datum": 0, "type": "quantitative", "scale": {"domain": [0, 1]}, "axis": null}, "x2": {"datum": 1}}},
  {"mark": {"type": "text", "align": "left", "baseline": "alphabetic", "dx": -18, "dy": -4.6, "fontSize": 18, "fontWeight": "bold", "font": "Liberation Sans"}, "encoding": {"x": {"datum": 0, "type": "quantitative", "scale": {"domain": [0, 1]}, "axis": null}, "text": {"field": "panel"}}}
 ]},
{
"width": 610, "height": 213,
"view": {"stroke": "#8c8c8c", "strokeWidth": 1},
"title": {"text": "Proximal clusters", "fontSize": 23, "font": "Liberation Sans", "fontWeight": "normal", "anchor": "middle", "frame": "group", "offset": -1, "color": "black"},
"data": {"name": "proximal"},
"mark": {"type": "rect", "strokeWidth": 0},
"encoding": {
 "x": {"field": "motif", "type": "nominal", "sort": ["Ebox1","Ebox2","Ebox3","Nfi","Sox","2Sox","Fox","Rfx3","E2f3","Tcfap2a","ETts1","Sp1","Zic4","Smad3 2nd","Ctcf","Rest"], "scale": {"paddingInner": 0, "paddingOuter": 0.08},
  "axis": {"title": null, "labelAngle": -45, "labelAlign": "right", "labelBaseline": "top", "labelFont": "Liberation Sans", "labelFontSize": 12.5, "labelColor": "#1a1a1a", "domain": false, "tickSize": 4, "tickColor": "#333333", "offset": 2, "labelPadding": 2, "grid": false}},
 "y": {"field": "cluster", "type": "nominal", "sort": ["Cluster 5|Unmarked","Cluster 4|Repressed","Cluster 3|Poised","Cluster 2|Active","Cluster 1|Active"], "scale": {"paddingInner": 0, "paddingOuter": 0.072},
  "axis": {"title": null, "labelExpr": "split(datum.label, '|')", "labelLineHeight": 17, "labelFont": "Liberation Sans", "labelFontSize": 12.5, "labelColor": "#1a1a1a", "domain": false, "tickSize": 3, "tickColor": "#333333", "offset": 2, "labelPadding": 2, "grid": false}},
 "color": {"field": "level", "type": "nominal", "scale": {"domain": ["50+ %","50 %","40 %","30 %","20 %","10 %"], "range": ["#bd0029","#eb2c27","#f58649","#fbab54","#fdd480","#fdf3b8"]},
  "legend": {"title": "Abundance", "orient": "none", "legendX": 627, "legendY": 50, "titleFontSize": 15.5, "titleFontWeight": "bold", "titleFont": "Liberation Sans", "titleColor": "black", "titlePadding": 1, "labelFontSize": 15, "labelFont": "Liberation Sans", "labelColor": "#1a1a1a", "symbolType": "square", "symbolSize": 289, "symbolStrokeWidth": 0, "symbolOpacity": 1, "rowPadding": 0, "labelOffset": 2, "padding": 0}}
}
}
]}
]
}
]
}
